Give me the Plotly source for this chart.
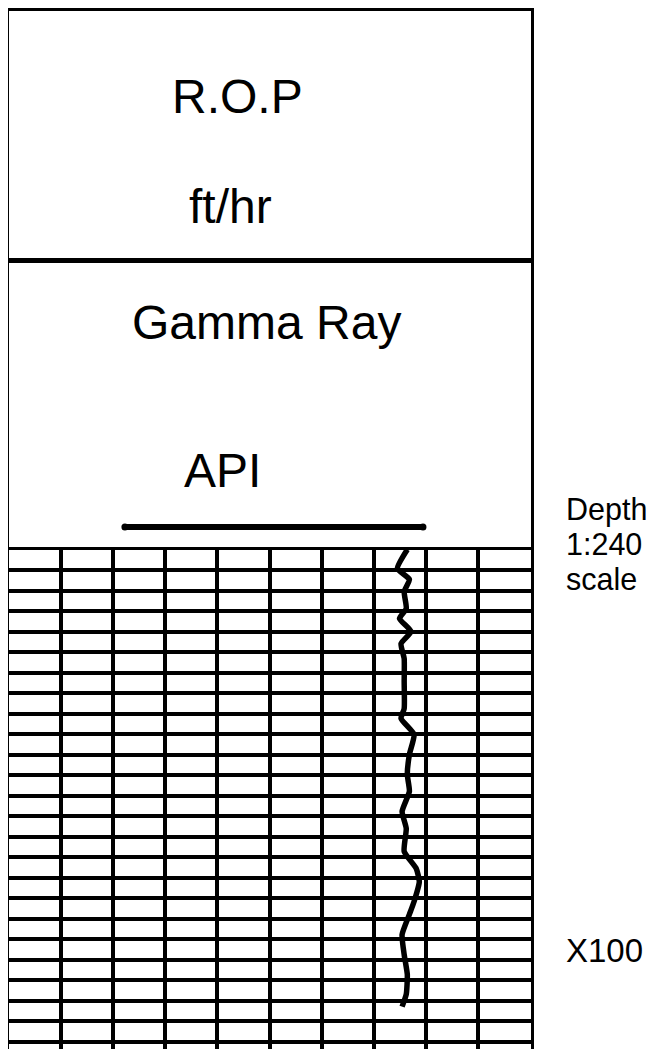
import plotly.graph_objects as go

# ---- data ----
gr_api = [76.4, 74.5, 76.8, 75.8, 76.2, 74.9, 77.1, 75.2, 75.8, 75.8, 75.8, 75.2, 77.7,
          76.8, 76.4, 76.8, 75.4, 76.2, 75.8, 78.1, 78.7, 77.7, 76.8, 75.4, 75.8, 76.4,
          76.2, 75.4]
depth = [0.0, 0.93, 1.46, 2.05, 2.88, 3.37, 4.0, 4.59, 5.32, 6.44, 7.76, 8.24, 9.02,
         10.0, 10.98, 11.8, 12.78, 13.61, 14.73, 15.56, 16.2, 17.17, 17.8, 18.78, 19.76,
         20.73, 21.7, 22.3]
gr_scale_x = [22.3, 79.4]
rop_title = ["R.O.P", "ft/hr"]
gr_title = ["Gamma Ray", "API"]
depth_labels = ["Depth", "1:240", "scale"]
depth_marker = "X100"

# page has an 8px body margin; figure sized so it ends at the window edges
OFF = 8
W, H = 655 - OFF, 1049 - OFF
FONT = "Liberation Sans, Arial, sans-serif"

def px_x(v):
    return (v - OFF) / W

def px_y(v):
    return 1 - (v - OFF) / H

xdom = [px_x(8.5), px_x(530.5)]
d_rop = [px_y(257.5), px_y(11)]
d_gr = [px_y(547), px_y(263)]
d_grid = [0.0, px_y(549.5)]
grid_bottom = (1049 - 549.5) / 20.5

fig = go.Figure()

fig.add_trace(go.Scatter(x=gr_scale_x, y=[0.07, 0.07], mode="lines+markers",
                         line=dict(color="black", width=6),
                         marker=dict(color="black", size=7, symbol="circle"),
                         xaxis="x2", yaxis="y2", showlegend=False, hoverinfo="skip"))
fig.add_trace(go.Scatter(x=gr_api, y=depth, mode="lines",
                         line=dict(color="black", width=5.5, shape="spline", smoothing=0.5),
                         xaxis="x3", yaxis="y3", showlegend=False))

box_axis = dict(showgrid=False, zeroline=False, showticklabels=False, ticks="",
                showline=True, linecolor="black", linewidth=3, mirror=True, fixedrange=True)

fig.update_layout(
    width=W, height=H, margin=dict(l=0, r=0, t=0, b=0),
    paper_bgcolor="white", plot_bgcolor="white", template="none",
    font=dict(family=FONT, color="black"),
    xaxis=dict(domain=xdom, range=[0, 100], anchor="y", **box_axis),
    yaxis=dict(domain=d_rop, range=[0, 1], anchor="x", **box_axis),
    xaxis2=dict(domain=xdom, range=[0, 100], anchor="y2", **box_axis),
    yaxis2=dict(domain=d_gr, range=[0, 1], anchor="x2", **box_axis),
    xaxis3=dict(domain=xdom, range=[0, 100], anchor="y3",
                showgrid=True, gridcolor="black", gridwidth=4,
                tickmode="array", tickvals=list(range(10, 100, 10)),
                zeroline=False, showticklabels=False, ticks="", showline=False),
    yaxis3=dict(domain=d_grid, range=[grid_bottom, 0], anchor="x3",
                showgrid=True, gridcolor="black", gridwidth=4, dtick=1, tick0=0,
                zeroline=False, showticklabels=False, ticks="",
                showline=True, linecolor="black", linewidth=3, mirror=True),
)

ann = []
ann.append(dict(text=rop_title[0], x=43.8, y=0.655, xref="x", yref="y"))
ann.append(dict(text=rop_title[1], x=42.6, y=0.205, xref="x", yref="y"))
ann.append(dict(text=gr_title[0], x=49.5, y=0.789, xref="x2", yref="y2"))
ann.append(dict(text=gr_title[1], x=40.9, y=0.268, xref="x2", yref="y2"))
for a in ann:
    a.update(showarrow=False, font=dict(size=48, family=FONT, color="black"),
             xanchor="center", yanchor="middle")
for txt, yy in zip(depth_labels, [510, 544, 579]):
    ann.append(dict(text=txt, x=px_x(564), y=px_y(yy), xref="paper", yref="paper",
                    showarrow=False, xanchor="left", yanchor="middle",
                    font=dict(size=30.5, family=FONT, color="black")))
ann.append(dict(text=depth_marker, x=px_x(564), y=px_y(950), xref="paper", yref="paper",
                showarrow=False, xanchor="left", yanchor="middle",
                font=dict(size=33, family=FONT, color="black")))
fig.update_layout(annotations=ann)

fig.write_html("out.html")
